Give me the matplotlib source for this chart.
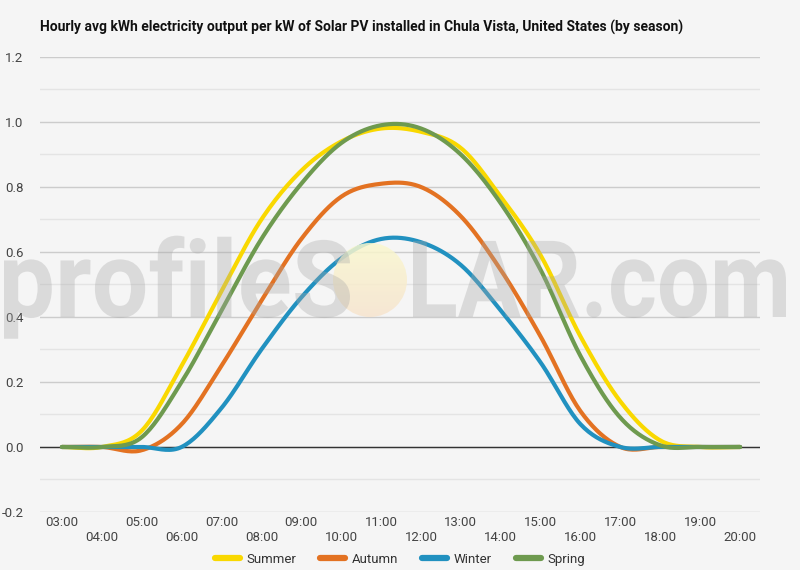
import numpy as np
import matplotlib
matplotlib.use("Agg")
import matplotlib.pyplot as plt
from matplotlib.textpath import TextPath
from matplotlib.font_manager import FontProperties
from matplotlib.patches import PathPatch, Circle
from matplotlib.transforms import Affine2D, IdentityTransform

plt.rcParams['font.family'] = ['Roboto', 'DejaVu Sans']

hours = list(range(3, 21))
hour_labels = ["%02d:00" % h for h in hours]

summer = [0.0, 0.0, 0.05, 0.25, 0.48, 0.70, 0.85, 0.94, 0.98, 0.97, 0.92, 0.77, 0.59, 0.34, 0.14, 0.02, 0.0, 0.0]
autumn = [0.0, 0.0, -0.01, 0.07, 0.25, 0.45, 0.64, 0.77, 0.81, 0.80, 0.71, 0.545, 0.34, 0.11, 0.0, 0.0, 0.0, 0.0]
winter = [0.0, 0.0, 0.0, 0.0, 0.12, 0.30, 0.46, 0.58, 0.64, 0.63, 0.56, 0.42, 0.26, 0.07, 0.0, 0.0, 0.0, 0.0]
spring = [0.0, 0.0, 0.03, 0.20, 0.42, 0.64, 0.81, 0.935, 0.99, 0.98, 0.90, 0.75, 0.545, 0.28, 0.09, 0.005, 0.0, 0.0]

series = [("Summer", summer, "#f9d800"),
          ("Autumn", autumn, "#e37222"),
          ("Winter", winter, "#2191c0"),
          ("Spring", spring, "#6e9a4f")]

title = "Hourly avg kWh electricity output per kW of Solar PV installed in Chula Vista, United States (by season)"


def smooth(x, y, n=20):
    # catmull-rom curve through the hourly points, just for drawing
    x = np.asarray(x, float)
    y = np.asarray(y, float)
    px = np.concatenate([[2 * x[0] - x[1]], x, [2 * x[-1] - x[-2]]])
    py = np.concatenate([[y[0]], y, [y[-1]]])
    xs, ys = [], []
    t = np.linspace(0, 1, n, endpoint=False)
    for i in range(1, len(px) - 2):
        for arr, out in ((px, xs), (py, ys)):
            p0, p1, p2, p3 = arr[i - 1], arr[i], arr[i + 1], arr[i + 2]
            out.extend(0.5 * (2 * p1 + (-p0 + p2) * t + (2 * p0 - 5 * p1 + 4 * p2 - p3) * t ** 2
                              + (-p0 + 3 * p1 - 3 * p2 + p3) * t ** 3))
    xs.append(x[-1])
    ys.append(y[-1])
    return np.array(xs), np.array(ys)


bg = "#f5f5f5"
fig = plt.figure(figsize=(8, 5.7), dpi=100, facecolor=bg)
ax = fig.add_axes([0.05, 0.1018, 0.9, 0.7982])
ax.set_facecolor(bg)

for name, vals, col in series:
    sx, sy = smooth(hours, vals)
    ax.plot(sx, sy, color=col, lw=3, label=name, solid_capstyle='round', zorder=3)

ax.set_xlim(2.45, 20.5)
ax.set_ylim(-0.2, 1.2)
ax.set_yticks(np.arange(-0.2, 1.21, 0.2))
ax.set_yticklabels(["%.1f" % v for v in np.arange(-0.2, 1.21, 0.2)])
ax.set_yticks(np.arange(-0.1, 1.2, 0.2), minor=True)
ax.grid(axis='y', which='major', color='#cccccc', lw=1)
ax.grid(axis='y', which='minor', color='#e4e4e4', lw=1)
ax.axhline(0, color='#333333', lw=1, zorder=2)
ax.tick_params(axis='y', which='both', length=0, labelsize=9.5, labelcolor='#444444', pad=12)
ax.set_xticks(hours)
ax.set_xticklabels([("" if i % 2 == 0 else "\n") + lab for i, lab in enumerate(hour_labels)])
ax.tick_params(axis='x', length=0, labelsize=9.5, labelcolor='#444444', pad=3)
for s in ax.spines.values():
    s.set_visible(False)

fig.text(0.05, 0.951, title, fontsize=10, fontweight='bold', color='#111111', va='center')

leg = fig.legend(loc='lower center', bbox_to_anchor=(0.5, -0.013), ncol=4, frameon=False,
                 fontsize=9.5, handlelength=1.9, columnspacing=1.8, handletextpad=0.5)
for t in leg.get_texts():
    t.set_color('#333333')
for h in leg.legend_handles:
    h.set_linewidth(4.5)

# watermark
fp = FontProperties(family='Roboto', weight='bold')
H = 570


def stamp(s, x0, x1, base_img, cap_px):
    tp = TextPath((0, 0), s, size=100, prop=fp)
    ext = tp.get_extents()
    sy = cap_px / 71.0
    sx = (x1 - x0) / ext.width
    tr = Affine2D().translate(-ext.x0, 0).scale(sx, sy).translate(x0, H - base_img)
    patch = PathPatch(tr.transform_path(tp), transform=IdentityTransform(),
                      facecolor='#a8a8a8', edgecolor='none', alpha=0.34, zorder=10)
    fig.patches.append(patch)


stamp("profileS", 4, 350, 317, 76)
stamp("LAR.com", 413, 786, 317, 76)

cx, cy, r = 370, H - 280, 37
grad = np.linspace(0, 1, 2 * r)[:, None]
top = np.array([250, 248, 205]) / 255.0
bot = np.array([247, 228, 205]) / 255.0
img = top[None, None, :] * (1 - grad[:, :, None]) + bot[None, None, :] * grad[:, :, None]
img = np.repeat(img, 2 * r, axis=1)
alpha = np.full((2 * r, 2 * r, 1), 0.85)
img = np.concatenate([img, alpha], axis=2)
fi = fig.figimage(img, xo=cx - r, yo=cy - r, origin='upper', zorder=9)
fi.set_clip_path(Circle((cx, cy), r, transform=IdentityTransform()))

fig.savefig("out.png", dpi=100, facecolor=bg)
